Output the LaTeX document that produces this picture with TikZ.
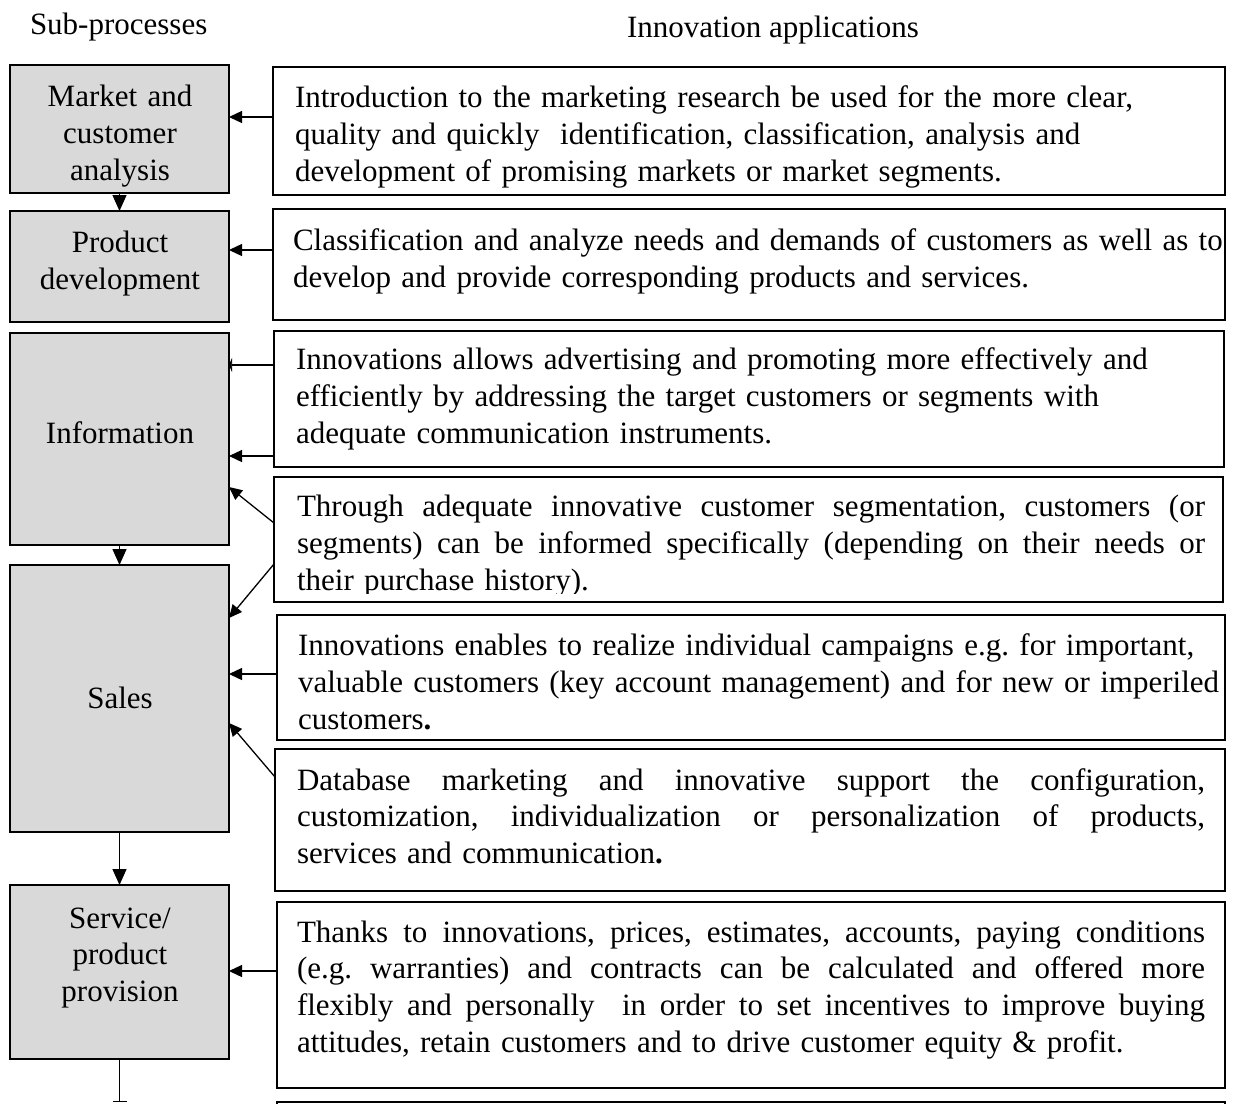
\documentclass[tikz,border=0pt]{standalone}
\usepackage{fontspec}
\setmainfont{Liberation Serif}
\usetikzlibrary{arrows.meta,calc}
\definecolor{boxgray}{RGB}{217,217,217}
\frenchspacing
% a justified line of fixed width
\newcommand\jline[1]{\leavevmode\hbox to 908pt{\spaceskip=0.25em plus 0.6em minus 0.05em\relax #1}}

\begin{document}
\begin{tikzpicture}[x=1pt,y=-1pt,
  every node/.style={inner sep=0pt, outer sep=0pt},
  subbox/.style={draw=black, fill=boxgray, line width=1.6pt, anchor=north west},
  appbox/.style={draw=black, fill=white, line width=1.6pt, anchor=north west},
  txt/.style={font=\fontsize{31}{36.7}\selectfont},
  apptext/.style={txt, anchor=north west, align=left, text width=960pt},
  sublabel/.style={txt, anchor=north, align=center, text width=210pt},
  conn/.style={line width=1.3pt, -{Triangle[length=13pt,width=12pt]}},
  gaptip/.style={line width=1.3pt, -{Triangle[length=16pt,width=14pt]}},
]
\useasboundingbox (0,0) rectangle (1234,1103);

% column headings
\node[txt, anchor=base west] (h1) at (30,34) {Sub-processes};
\node[txt, anchor=base west] (h2) at (627,37) {Innovation applications};

% sub-process boxes
\node[subbox, minimum width=219pt, minimum height=128pt] (m1) at (10,65) {};
\node[subbox, minimum width=219pt, minimum height=111pt] (m2) at (10,211) {};
\node[subbox, minimum width=219pt, minimum height=212pt] (m3) at (10,333) {};
\node[subbox, minimum width=219pt, minimum height=267pt] (m4) at (10,565) {};
\node[subbox, minimum width=219pt, minimum height=174pt] (m5) at (10,885) {};

\node[sublabel] (lm1) at (120,81.3) {\strut Market and\\ customer\\ analysis};
\node[sublabel] (lm2) at (120,227.3) {\strut Product\\ development};
\node[sublabel] (lm3) at (120,418.3) {\strut Information};
\node[sublabel] (lm4) at (120,683.3) {\strut Sales};
\node[sublabel] (lm5) at (120,902.3) {\strut Service/\\ product\\ provision};

% application boxes
\node[appbox, minimum width=952pt, minimum height=128pt] (r1) at (273,67) {};
\node[appbox, minimum width=952pt, minimum height=111pt] (r2) at (273,209) {};
\node[appbox, minimum width=950pt, minimum height=136pt] (r3) at (274,331) {};
\node[appbox, minimum width=949pt, minimum height=125pt] (r4) at (274,477) {};
\node[appbox, minimum width=948pt, minimum height=125pt] (r5) at (277,615) {};
\node[appbox, minimum width=950pt, minimum height=142pt] (r6) at (275,749) {};
\node[appbox, minimum width=948pt, minimum height=186pt] (r7) at (277,902) {};
\node[appbox, minimum width=948pt, minimum height=60pt] (r8) at (277,1102) {};

% application texts
\node[apptext] (t1) at (295,82.3) {\strut Introduction to the marketing research be used for the more clear,\\
quality and quickly~ identification, classification, analysis and\\
development of promising markets or market segments.};
\node[apptext] (t2) at (293,225.3) {\strut Classification and analyze needs and demands of customers as well as to\\
develop and provide corresponding products and services.};
\node[apptext] (t3) at (296,344.3) {\strut Innovations allows advertising and promoting more effectively and\\
efficiently by addressing the target customers or segments with\\
adequate communication instruments.};
\begin{scope}
  \clip (r4.north west) rectangle ($(r4.north east)+(0,116)$);
  \node[apptext] (t4) at (297,491.3) {\strut\jline{Through adequate innovative customer segmentation, customers (or}\\
  \jline{segments) can be informed specifically (depending on their needs or}\\
  \strut their purchase history).};
\end{scope}
\node[apptext] (t5) at (298,630.3) {\strut Innovations enables to realize individual campaigns e.g. for important,\\
valuable customers (key account management) and for new or imperiled\\
customers\textbf{.}};
\node[apptext] (t6) at (297,764.3) {\strut\jline{Database marketing and innovative support the configuration,}\\
\jline{customization, individualization or personalization of products,}\\
\strut services and communication\textbf{.}};
\node[apptext] (t7) at (297,916.3) {\strut\jline{Thanks to innovations, prices, estimates, accounts, paying conditions}\\
\jline{(e.g. warranties) and contracts can be calculated and offered more}\\
\jline{flexibly and personally~ in order to set incentives to improve buying}\\
\strut attitudes, retain customers and to drive customer equity \& profit.};

% flow between sub-processes
\draw[gaptip] (m1.south) -- (m2.north);
\draw[gaptip] (m3.south) -- (m4.north);
\draw[gaptip] (m4.south) -- (m5.north);
\draw[line width=1.3pt, -{Bar[width=14pt]}] (m5.south) -- ++(0,43) coordinate (tail);

% applications feeding the sub-processes
\draw[conn] ($(r1.north west)+(0,50)$) coordinate (a1) -- (a1 -| m1.east);
\draw[conn] ($(r2.north west)+(0,41)$) coordinate (a2) -- (a2 -| m2.east);
\draw[line width=1.3pt, -{Triangle[length=3pt,width=14pt]}] ($(r3.north west)+(0,34)$) coordinate (a3) -- (a3 -| m3.east);
\draw[conn] ($(r3.north west)+(0,125)$) coordinate (a4) -- (a4 -| m3.east);
\draw[conn] ($(r4.north west)+(0,46)$) -- ($(m3.north east)+(0,154)$);
\draw[conn] ($(r4.north west)+(0,87)$) -- ($(m4.north east)+(0,53)$);
\draw[conn] ($(r5.north west)+(0,59)$) coordinate (a5) -- (a5 -| m4.east);
\draw[conn] ($(r6.north west)+(0,28)$) -- ($(m4.north east)+(0,158)$);
\draw[conn] ($(r7.north west)+(0,69)$) coordinate (a7) -- (a7 -| m5.east);
\end{tikzpicture}
\end{document}
